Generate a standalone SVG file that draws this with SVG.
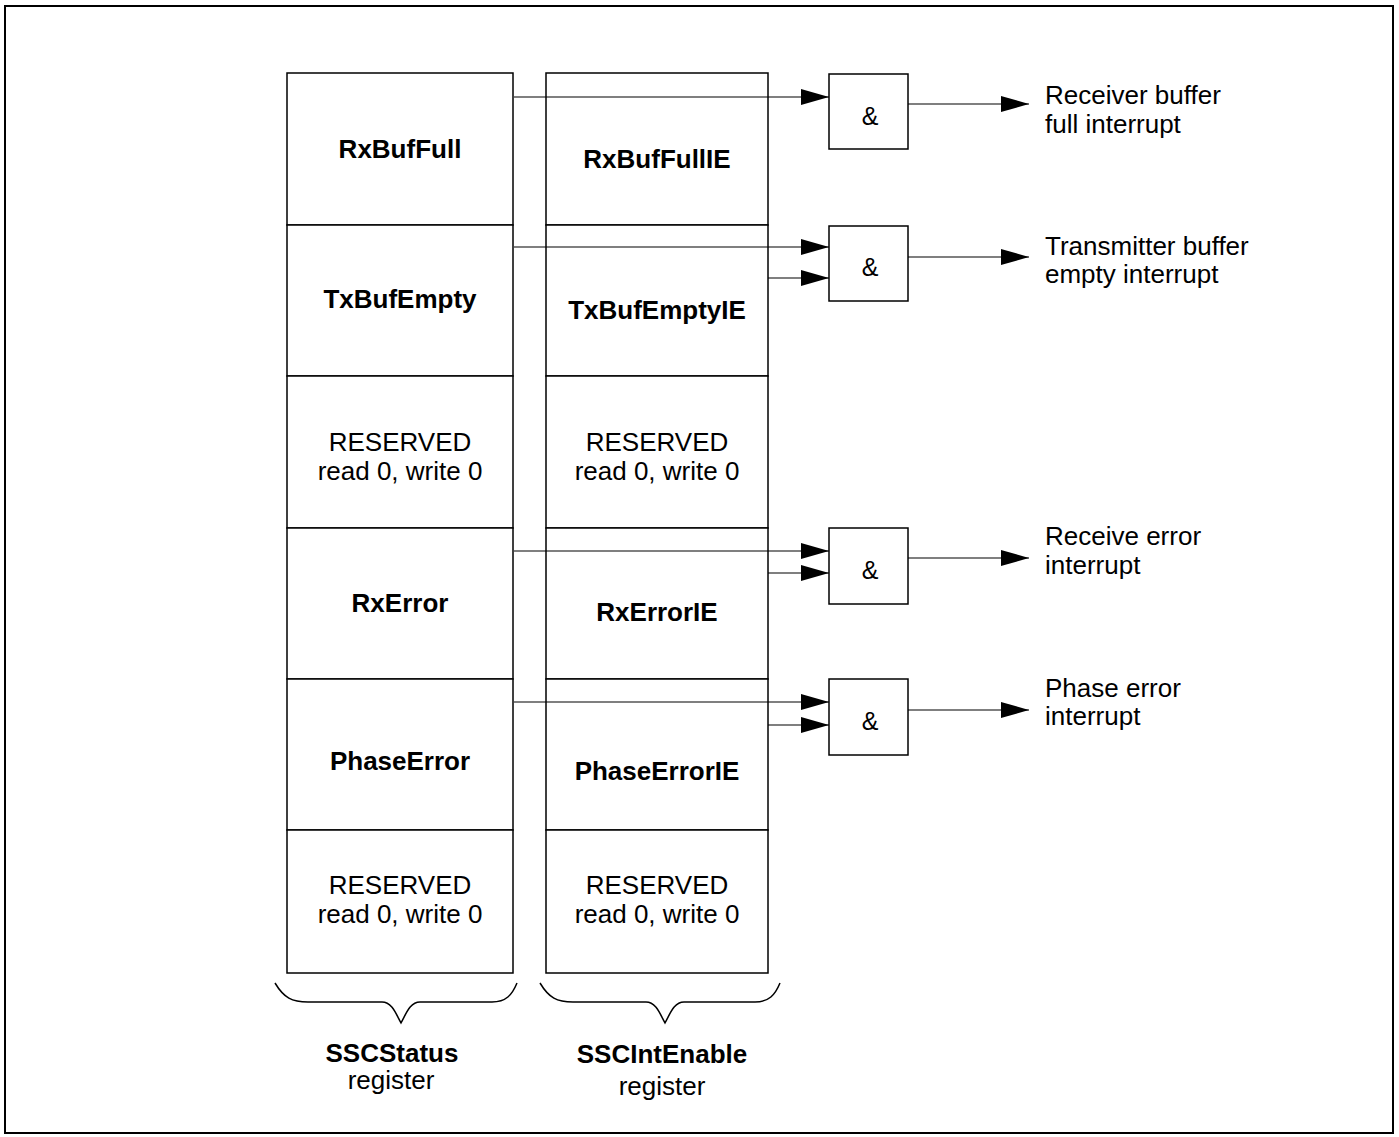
<svg xmlns="http://www.w3.org/2000/svg" width="1399" height="1137" viewBox="0 0 1399 1137">
<style>
text{font-family:"Liberation Sans",Arial,sans-serif;font-size:26px;fill:#000}
.b{font-weight:bold}
.m{text-anchor:middle}
.cell{fill:#fff;stroke:#000;stroke-width:1.5}
.gate{fill:#fff;stroke:#000;stroke-width:1.5}
.w{fill:none;stroke:#000;stroke-width:1.2}
.brace{fill:none;stroke:#000;stroke-width:1.5}
.amp{font-size:25px}
</style>
<defs>
<marker id="ah" markerUnits="userSpaceOnUse" markerWidth="28" markerHeight="16" refX="28" refY="8" orient="auto">
<path d="M0,0 L28,8 L0,16 z" fill="#000"/>
</marker>
</defs>
<rect x="5" y="6" width="1388" height="1127" fill="#fff" stroke="#000" stroke-width="2"/>

<g id="sscstatus">
<g id="s-rxbuffull"><rect class="cell" x="287" y="73" width="226" height="152"/><text class="b m" x="400" y="158">RxBufFull</text></g>
<g id="s-txbufempty"><rect class="cell" x="287" y="225" width="226" height="151"/><text class="b m" x="400" y="308">TxBufEmpty</text></g>
<g id="s-reserved1"><rect class="cell" x="287" y="376" width="226" height="152"/><text class="m" x="400" y="451">RESERVED</text><text class="m" x="400" y="480">read 0, write 0</text></g>
<g id="s-rxerror"><rect class="cell" x="287" y="528" width="226" height="151"/><text class="b m" x="400" y="612">RxError</text></g>
<g id="s-phaseerror"><rect class="cell" x="287" y="679" width="226" height="151"/><text class="b m" x="400" y="770">PhaseError</text></g>
<g id="s-reserved2"><rect class="cell" x="287" y="830" width="226" height="143"/><text class="m" x="400" y="894">RESERVED</text><text class="m" x="400" y="923">read 0, write 0</text></g>
</g>

<g id="sscintenable">
<g id="e-rxbuffullie"><rect class="cell" x="546" y="73" width="222" height="152"/><text class="b m" x="657" y="168">RxBufFullIE</text></g>
<g id="e-txbufemptyie"><rect class="cell" x="546" y="225" width="222" height="151"/><text class="b m" x="657" y="319">TxBufEmptyIE</text></g>
<g id="e-reserved1"><rect class="cell" x="546" y="376" width="222" height="152"/><text class="m" x="657" y="451">RESERVED</text><text class="m" x="657" y="480">read 0, write 0</text></g>
<g id="e-rxerrorie"><rect class="cell" x="546" y="528" width="222" height="151"/><text class="b m" x="657" y="621">RxErrorIE</text></g>
<g id="e-phaseerrorie"><rect class="cell" x="546" y="679" width="222" height="151"/><text class="b m" x="657" y="780">PhaseErrorIE</text></g>
<g id="e-reserved2"><rect class="cell" x="546" y="830" width="222" height="143"/><text class="m" x="657" y="894">RESERVED</text><text class="m" x="657" y="923">read 0, write 0</text></g>
</g>

<g id="gate1"><rect class="gate" x="829" y="74" width="79" height="75"/><text class="m amp" x="870" y="125">&amp;</text></g>
<g id="gate2"><rect class="gate" x="829" y="226" width="79" height="75"/><text class="m amp" x="870" y="276">&amp;</text></g>
<g id="gate3"><rect class="gate" x="829" y="528" width="79" height="76"/><text class="m amp" x="870" y="579">&amp;</text></g>
<g id="gate4"><rect class="gate" x="829" y="679" width="79" height="76"/><text class="m amp" x="870" y="730">&amp;</text></g>

<g id="out1"><text x="1045" y="104">Receiver buffer</text><text x="1045" y="133">full interrupt</text></g>
<g id="out2"><text x="1045" y="255">Transmitter buffer</text><text x="1045" y="283">empty interrupt</text></g>
<g id="out3"><text x="1045" y="545">Receive error</text><text x="1045" y="574">interrupt</text></g>
<g id="out4"><text x="1045" y="697">Phase error</text><text x="1045" y="725">interrupt</text></g>

<g id="label-status">
<path class="brace" d="M275,983 C284,998 292,1002 308,1002 L382,1002 C392,1002 396,1014 401,1023 C406,1014 410,1002 420,1002 L492,1002 C506,1002 512,995 517,983"/>
<text class="b m" x="392" y="1062">SSCStatus</text>
<text class="m" x="391" y="1089">register</text>
</g>
<g id="label-enable">
<path class="brace" d="M540,983 C549,998 557,1002 573,1002 L646,1002 C656,1002 660,1014 665,1023 C670,1014 674,1002 684,1002 L755,1002 C769,1002 775,995 780,983"/>
<text class="b m" x="662" y="1063">SSCIntEnable</text>
<text class="m" x="662" y="1095">register</text>
</g>

<g id="connectors">
<line class="w" x1="514" y1="97" x2="829" y2="97" marker-end="url(#ah)"/>
<line class="w" x1="514" y1="247" x2="829" y2="247" marker-end="url(#ah)"/>
<line class="w" x1="768" y1="278" x2="829" y2="278" marker-end="url(#ah)"/>
<line class="w" x1="514" y1="551" x2="829" y2="551" marker-end="url(#ah)"/>
<line class="w" x1="768" y1="573" x2="829" y2="573" marker-end="url(#ah)"/>
<line class="w" x1="514" y1="702" x2="829" y2="702" marker-end="url(#ah)"/>
<line class="w" x1="768" y1="725" x2="829" y2="725" marker-end="url(#ah)"/>
<line class="w" x1="908" y1="104" x2="1029" y2="104" marker-end="url(#ah)"/>
<line class="w" x1="908" y1="257" x2="1029" y2="257" marker-end="url(#ah)"/>
<line class="w" x1="908" y1="558" x2="1029" y2="558" marker-end="url(#ah)"/>
<line class="w" x1="908" y1="710" x2="1029" y2="710" marker-end="url(#ah)"/>
</g>
</svg>
